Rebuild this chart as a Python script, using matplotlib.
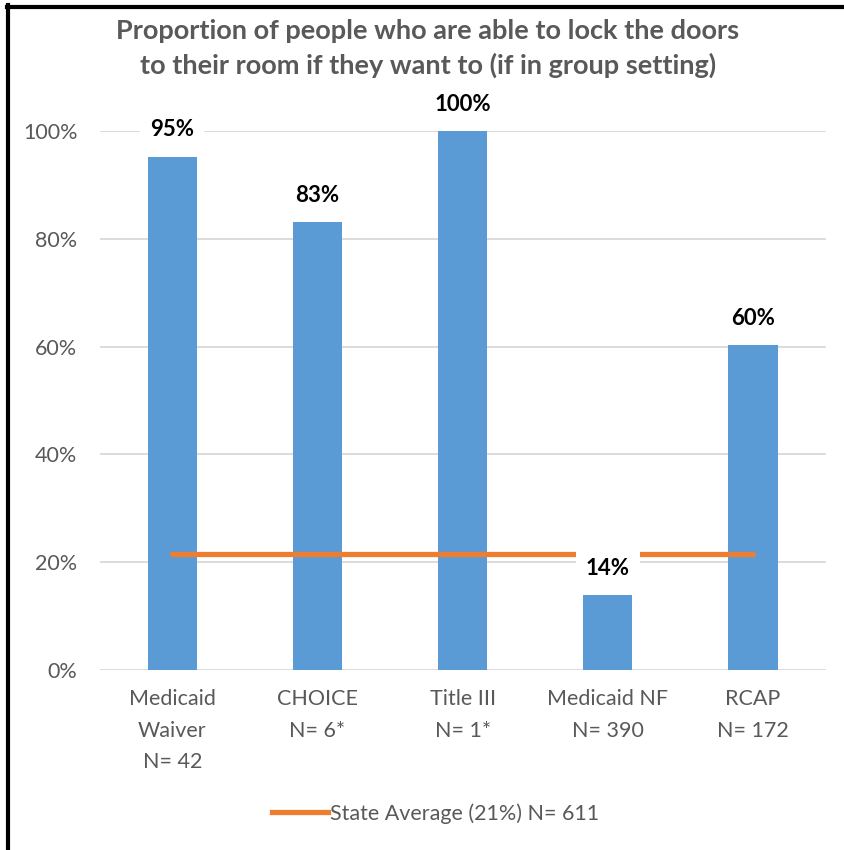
import matplotlib.pyplot as plt
from matplotlib.lines import Line2D

categories = ["Medicaid\nWaiver\nN= 42", "CHOICE\nN= 6*", "Title III\nN= 1*", "Medicaid NF\nN= 390", "RCAP\nN= 172"]
values = [0.952, 0.831, 1.0, 0.139, 0.603]
value_labels = ["95%", "83%", "100%", "14%", "60%"]
state_avg = 0.215
legend_label = "State Average (21%) N= 611"
yticks = [0, 0.2, 0.4, 0.6, 0.8, 1.0]
title = "Proportion of people who are able to lock the doors\nto their room if they want to (if in group setting)"

BLUE = "#5B9BD5"
ORANGE = "#ED7D31"
GRAY = "#595959"
GRID = "#D9D9D9"

plt.rcParams["font.family"] = ["Lato", "DejaVu Sans"]

fig = plt.figure(figsize=(8.45, 8.5), dpi=100)
ax = fig.add_axes([0.118, 0.2118, 0.859, 0.634])

x = list(range(len(categories)))
ax.bar(x, values, width=0.34, color=BLUE, zorder=2)
ax.plot([x[0], x[-1]], [state_avg, state_avg], color=ORANGE, lw=3.8,
        solid_capstyle="round", zorder=3)

for xi, v, lab in zip(x, values, value_labels):
    ax.annotate(lab, (xi, v), xytext=(0, 27), textcoords="offset pixels",
                ha="center", va="center", fontsize=16, fontweight="bold", color="black",
                bbox=dict(boxstyle="square,pad=0.45", fc="white", ec="none"), zorder=4)

ax.set_xlim(-0.5, len(categories) - 0.5)
ax.set_ylim(0, 1.0)
ax.set_yticks(yticks)
ax.set_yticklabels([f"{int(round(t*100))}%" for t in yticks])
ax.set_xticks(x)
ax.set_xticklabels(categories, linespacing=1.7)
ax.tick_params(axis="both", length=0, colors=GRAY, labelsize=15.5)
ax.tick_params(axis="y", pad=16)
ax.tick_params(axis="x", pad=14)
ax.grid(axis="y", color=GRID, lw=1.3, zorder=0)
ax.set_axisbelow(True)
for s in ax.spines.values():
    s.set_visible(False)

fig.text(0.506, 0.943, title, ha="center", va="center", fontsize=19.5, fontweight="bold",
         color=GRAY, linespacing=1.45)

handle = Line2D([], [], color=ORANGE, lw=3.8)
fig.legend([handle], [legend_label], loc="center", bbox_to_anchor=(0.515, 0.043),
           frameon=False, fontsize=15.5, handlelength=2.6, handletextpad=0.1,
           labelcolor=GRAY)

# border on left and top only
fig.add_artist(Line2D([0.0097, 0.0097], [0, 0.994], color="black", lw=3, transform=fig.transFigure))
fig.add_artist(Line2D([0.0085, 1.0], [0.9922, 0.9922], color="black", lw=3, transform=fig.transFigure))

fig.savefig("out.png", dpi=100, facecolor="white")
